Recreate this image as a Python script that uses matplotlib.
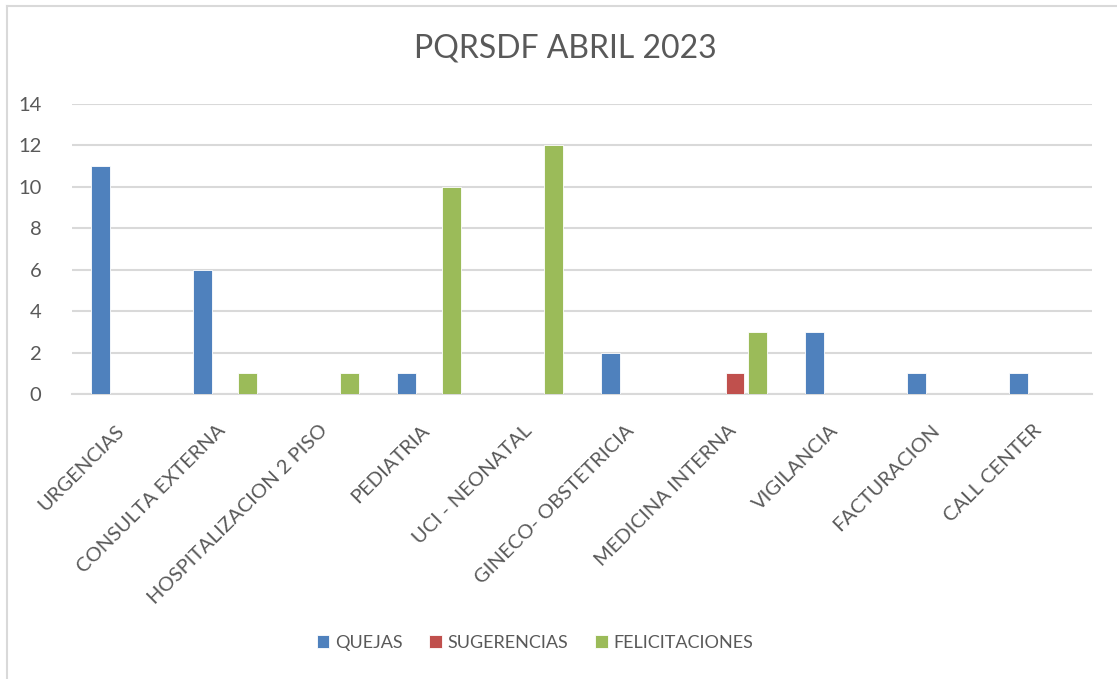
import matplotlib.pyplot as plt
import matplotlib.transforms as mtransforms
import numpy as np
from matplotlib.lines import Line2D

plt.rcParams['font.family'] = ['Lato', 'DejaVu Sans']

categories = ["URGENCIAS", "CONSULTA EXTERNA", "HOSPITALIZACION 2 PISO", "PEDIATRIA",
              "UCI - NEONATAL", "GINECO- OBSTETRICIA", "MEDICINA INTERNA", "VIGILANCIA",
              "FACTURACION", "CALL CENTER"]
quejas = [11, 6, 0, 1, 0, 2, 0, 3, 1, 1]
sugerencias = [0, 0, 0, 0, 0, 0, 1, 0, 0, 0]
felicitaciones = [0, 1, 1, 10, 12, 0, 3, 0, 0, 0]

series = [("QUEJAS", quejas, "#4f81bd"),
          ("SUGERENCIAS", sugerencias, "#c0504d"),
          ("FELICITACIONES", felicitaciones, "#9bbb59")]

text_color = "#595959"
grid_color = "#d9d9d9"

fig = plt.figure(figsize=(11.17, 6.79), dpi=100)
ax = fig.add_axes([72 / 1117, 1 - 394 / 679, (1092 - 72) / 1117, (394 - 104) / 679])

x = np.arange(len(categories))
step = 0.22
for i, (name, vals, color) in enumerate(series):
    ax.bar(x + (i - 1) * step, vals, width=0.18, color=color, label=name,
           edgecolor="white", linewidth=0.6, zorder=3)

ax.set_xlim(-0.5, len(categories) - 0.5)
ax.set_ylim(0, 14)
ax.set_yticks(range(0, 15, 2))
ax.yaxis.grid(True, color=grid_color, linewidth=1.5, zorder=0)
ax.set_xticks(x)
ax.set_xticklabels(categories, rotation=45, ha="right", rotation_mode="anchor")
ax.tick_params(axis="both", length=0, colors=text_color, labelsize=14.5)
ax.tick_params(axis="x", pad=20)
ax.tick_params(axis="y", pad=22)
# nudge the rotated labels a little to the left
shift = mtransforms.ScaledTranslation(-8 / 100, 0, fig.dpi_scale_trans)
for lbl in ax.get_xticklabels():
    lbl.set_transform(lbl.get_transform() + shift)
for side in ["top", "right", "left"]:
    ax.spines[side].set_visible(False)
ax.spines["bottom"].set_color(grid_color)
ax.spines["bottom"].set_linewidth(1.5)

fig.text(565 / 1117, 1 - 48 / 679, "PQRSDF ABRIL 2023", ha="center", va="center",
         fontsize=23, color=text_color)

leg = fig.legend(loc="center", bbox_to_anchor=(535 / 1117, 1 - 643 / 679), ncol=3,
                 frameon=False, fontsize=13, handlelength=0.7, handleheight=0.7,
                 columnspacing=1.5, handletextpad=0.3)
for t in leg.get_texts():
    t.set_color(text_color)

# partial chart-area frame (left and top edges visible)
fig.add_artist(Line2D([7 / 1117, 7 / 1117], [0, 1 - 6 / 679], transform=fig.transFigure,
                      color=grid_color, linewidth=1.5))
fig.add_artist(Line2D([7 / 1117, 1], [1 - 6 / 679, 1 - 6 / 679], transform=fig.transFigure,
                      color=grid_color, linewidth=1.5))

plt.savefig("out.png", dpi=100)
